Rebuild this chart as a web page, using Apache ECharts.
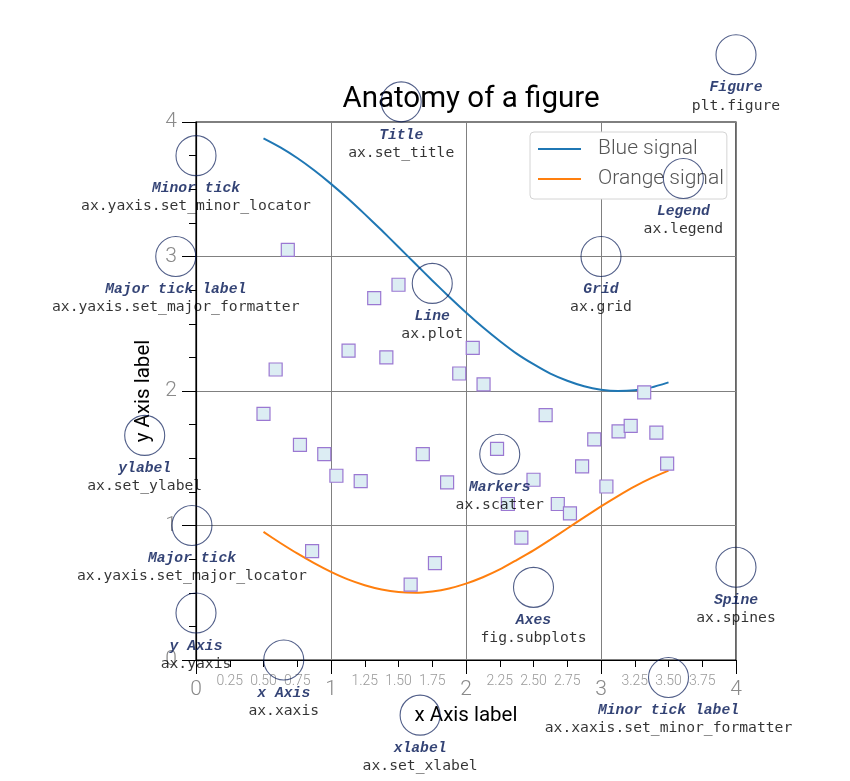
<!DOCTYPE html>
<html>
<head>
<meta charset="utf-8">
<script src="https://cdn.jsdelivr.net/npm/echarts@6/dist/echarts.min.js"></script>
<style>html,body{margin:0;padding:0;background:#fff}#c{width:850px;height:781px}</style>
</head>
<body>
<div id="c"></div>
<script>
// ---- data ----
const lineX = [0.5, 0.625, 0.75, 0.875, 1.0, 1.125, 1.25, 1.375, 1.5, 1.625, 1.75, 1.875, 2.0,
               2.125, 2.25, 2.375, 2.5, 2.625, 2.75, 2.875, 3.0, 3.125, 3.25, 3.375, 3.5];
const blueSignal = [3.878, 3.811, 3.732, 3.641, 3.540, 3.431, 3.315, 3.195, 3.071, 2.946, 2.822, 2.701, 2.584,
                    2.474, 2.372, 2.278, 2.199, 2.129, 2.076, 2.035, 2.010, 2.000, 2.006, 2.027, 2.064];
const orangeSignal = [0.952, 0.870, 0.792, 0.720, 0.655, 0.599, 0.556, 0.524, 0.505, 0.500, 0.510, 0.532, 0.568,
                      0.615, 0.673, 0.743, 0.815, 0.895, 0.978, 1.061, 1.142, 1.219, 1.291, 1.354, 1.408];

const markerX = [0.68, 0.59, 0.50, 0.77, 0.95, 1.04, 1.22, 0.86, 1.32, 1.50, 1.13, 1.41, 2.05, 1.95, 2.13,
                 1.68, 1.86, 1.59, 1.77, 2.23, 2.31, 2.50, 2.59, 2.68, 2.77, 2.41, 2.86, 2.95, 3.04, 3.13,
                 3.22, 3.32, 3.41, 3.49];
const markerY = [3.05, 2.16, 1.83, 1.60, 1.53, 1.37, 1.33, 0.81, 2.69, 2.79, 2.30, 2.25, 2.32, 2.13, 2.05,
                 1.53, 1.32, 0.56, 0.72, 1.57, 1.16, 1.34, 1.82, 1.16, 1.09, 0.91, 1.44, 1.64, 1.29, 1.70,
                 1.74, 1.99, 1.69, 1.46];

const annTitles = ['Figure', 'Title', 'Minor tick', 'Legend', 'Major tick label', 'Grid', 'Line', 'ylabel',
                   'Markers', 'Major tick', 'Spine', 'Axes', 'y Axis', 'x Axis', 'Minor tick label', 'xlabel'];
const annCodes = ['plt.figure', 'ax.set_title', 'ax.yaxis.set_minor_locator', 'ax.legend',
                  'ax.yaxis.set_major_formatter', 'ax.grid', 'ax.plot', 'ax.set_ylabel', 'ax.scatter',
                  'ax.yaxis.set_major_locator', 'ax.spines', 'fig.subplots', 'ax.yaxis', 'ax.xaxis',
                  'ax.xaxis.set_minor_formatter', 'ax.set_xlabel'];
const annX = [4.0, 1.52, 0.0, 3.61, -0.15, 3.0, 1.75, -0.38, 2.25, -0.03, 4.0, 2.5, 0.0, 0.65, 3.5, 1.66];
const annY = [4.5, 4.15, 3.75, 3.58, 3.0, 3.0, 2.80, 1.67, 1.53, 1.0, 0.69, 0.54, 0.35, 0.0, -0.13, -0.41];

const majorTicks = [0, 1, 2, 3, 4];

// ---- chart ----
const chart = echarts.init(document.getElementById('c'));
const navy = '#001452';
const tickGray = '#8a8a8a';

const annData = annX.map((x, i) => ({ value: [x, annY[i]], name: annTitles[i], code: annCodes[i] }));

chart.setOption({
  animation: false,
  backgroundColor: '#fff',
  title: {
    text: 'Anatomy of a figure',
    left: 466, top: 80, textAlign: 'center',
    textStyle: { fontFamily: 'Roboto', fontSize: 29.5, fontWeight: 'normal', color: '#000' }
  },
  legend: {
    data: ['Blue signal', 'Orange signal'],
    orient: 'vertical',
    left: 530, top: 132,
    padding: [6, 3, 9, 7],
    itemGap: 8,
    itemWidth: 43, itemHeight: 18,
    backgroundColor: '#fff',
    borderColor: '#d4d4d4', borderWidth: 1, borderRadius: 4,
    itemStyle: { color: 'rgba(0,0,0,0)', borderWidth: 0, opacity: 0 },
    lineStyle: { width: 2 },
    textStyle: { fontFamily: 'Roboto', fontSize: 21, fontWeight: 300, color: '#555', padding: [0, 0, 0, 12], lineHeight: 22 }
  },
  grid: {
    left: 196, top: 122, width: 540, height: 538,
    show: true, borderColor: '#000', borderWidth: 1.2, backgroundColor: 'transparent'
  },
  xAxis: [
    {
      type: 'value', min: 0, max: 4, interval: 1,
      name: 'x Axis label', nameLocation: 'middle', nameGap: 45,
      nameTextStyle: { fontFamily: 'Roboto', fontSize: 20.5, color: '#000' },
      axisLine: { show: true, onZero: false, lineStyle: { color: '#000', width: 1.2 } },
      axisTick: { show: true, length: 14, lineStyle: { color: '#000', width: 1 } },
      minorTick: { show: true, splitNumber: 4, length: 7, lineStyle: { color: '#000', width: 1 } },
      splitLine: { show: true, lineStyle: { color: '#808080', width: 1 } },
      axisLabel: { margin: 19, fontFamily: 'Roboto', fontSize: 21, fontWeight: 300, color: tickGray,
                   formatter: v => majorTicks.includes(v) ? String(v) : '' }
    },
    {
      type: 'value', min: 0, max: 4, interval: 0.25, position: 'bottom', offset: 0,
      axisLine: { show: false }, axisTick: { show: false }, splitLine: { show: false },
      axisLabel: { margin: 14, fontFamily: 'Roboto', fontSize: 14, fontWeight: 300, color: '#999',
                   showMinLabel: true, showMaxLabel: true,
                   formatter: v => (Math.abs(v - Math.round(v)) < 1e-9) ? '' : v.toFixed(2) }
    }
  ],
  yAxis: {
    type: 'value', min: 0, max: 4, interval: 1,
    name: 'y Axis label', nameLocation: 'middle', nameGap: 35, nameRotate: 90,
    nameTextStyle: { fontFamily: 'Roboto', fontSize: 20.5, color: '#000' },
    axisLine: { show: true, onZero: false, lineStyle: { color: '#000', width: 1.2 } },
    axisTick: { show: true, length: 14, lineStyle: { color: '#000', width: 1 } },
    minorTick: { show: true, splitNumber: 4, length: 7, lineStyle: { color: '#000', width: 1 } },
    splitLine: { show: true, lineStyle: { color: '#808080', width: 1 } },
    axisLabel: { margin: 19, fontFamily: 'Roboto', fontSize: 21, fontWeight: 300, color: tickGray }
  },
  series: [
    {
      name: 'Blue signal', type: 'line', xAxisIndex: 0,
      data: lineX.map((x, i) => [x, blueSignal[i]]),
      smooth: 0.2, symbol: 'none', lineStyle: { color: '#1f77b4', width: 2 }, itemStyle: { color: '#1f77b4' }, z: 3
    },
    {
      name: 'Orange signal', type: 'line', xAxisIndex: 0,
      data: lineX.map((x, i) => [x, orangeSignal[i]]),
      smooth: 0.2, symbol: 'none', lineStyle: { color: '#ff7f0e', width: 2 }, itemStyle: { color: '#ff7f0e' }, z: 3
    },
    {
      name: 'markers', type: 'scatter', xAxisIndex: 0,
      data: markerX.map((x, i) => [x, markerY[i]]),
      symbol: 'rect', symbolSize: 13,
      itemStyle: { color: '#dcedf3', borderColor: '#9b78d2', borderWidth: 1.2, opacity: 1 }, z: 4
    },
    {
      name: 'annotations', type: 'scatter', xAxisIndex: 0, clip: false,
      data: annData,
      symbol: 'circle', symbolSize: 40,
      itemStyle: { color: 'rgba(0,0,0,0)', borderColor: 'rgba(0,20,82,0.85)', borderWidth: 1.1 },
      label: {
        show: true, position: 'inside', offset: [0, 42],
        formatter: p => '{t|' + p.data.name + '}\n{c|' + p.data.code + '}',
        rich: {
          t: { fontFamily: 'Liberation Mono', fontWeight: 'bold', fontStyle: 'italic', fontSize: 14.7,
               color: navy, lineHeight: 18, align: 'center' },
          c: { fontFamily: 'DejaVu Sans Mono', fontSize: 14.7, color: '#000', lineHeight: 18, align: 'center' }
        }
      },
      emphasis: { disabled: true },
      z: 10
    }
  ]
});
</script>
</body>
</html>
